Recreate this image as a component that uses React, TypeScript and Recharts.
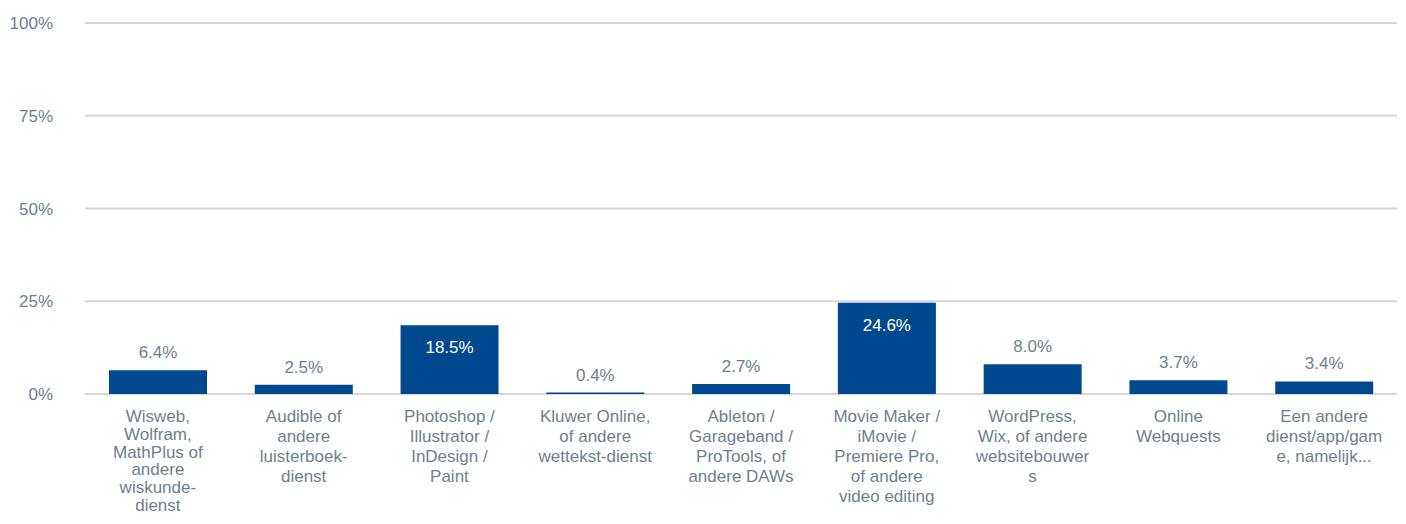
import { BarChart, Bar, XAxis, YAxis, CartesianGrid, LabelList } from "recharts"

const categories = [
  ["Wisweb,", "Wolfram,", "MathPlus of", "andere", "wiskunde-", "dienst"],
  ["Audible of", "andere", "luisterboek-", "dienst"],
  ["Photoshop /", "Illustrator /", "InDesign /", "Paint"],
  ["Kluwer Online,", "of andere", "wettekst-dienst"],
  ["Ableton /", "Garageband /", "ProTools, of", "andere DAWs"],
  ["Movie Maker /", "iMovie /", "Premiere Pro,", "of andere", "video editing"],
  ["WordPress,", "Wix, of andere", "websitebouwer", "s"],
  ["Online", "Webquests"],
  ["Een andere", "dienst/app/gam", "e, namelijk..."],
]
const values = [6.4, 2.5, 18.5, 0.4, 2.7, 24.6, 8.0, 3.7, 3.4]
const yTicks = [0, 25, 50, 75, 100]

const data = categories.map((lines, i) => ({ name: lines.join(" "), lines, value: values[i] }))

const GRAY = "#6e7f8c"
const BLUE = "#00498f"
const FONT = "'Liberation Sans', Arial, sans-serif"
const CHART_H = 508

function CategoryTick(props: any) {
  const { x, y, index } = props
  const lines: string[] = data[index]?.lines ?? []
  const first = y + 28
  // squeeze long labels so the last line still fits in the picture
  const step = lines.length > 1 ? Math.min(20, (CHART_H - 5 - first) / (lines.length - 1)) : 20
  return (
    <text textAnchor="middle" fill={GRAY} fontSize={17} fontFamily={FONT}>
      {lines.map((l, i) => (
        <tspan key={i} x={x} y={first + i * step}>{l}</tspan>
      ))}
    </text>
  )
}

function ValueLabel(props: any) {
  const { x, y, width, value } = props
  const inside = value > 15
  return (
    <text
      x={x + width / 2}
      y={inside ? y + 28 : y - 12}
      textAnchor="middle"
      fill={inside ? "#ffffff" : GRAY}
      fontSize={17}
      fontFamily={FONT}
    >
      {`${Number(value).toFixed(1)}%`}
    </text>
  )
}

export default function App() {
  return (
    <div style={{ width: 1390, height: CHART_H, fontFamily: FONT }}>
      <BarChart width={1390} height={CHART_H} data={data} margin={{ top: 15, right: 1, left: 0, bottom: 0 }}>
        <CartesianGrid vertical={false} stroke="#d6d6d6" strokeWidth={2} />
        <XAxis
          dataKey="name"
          interval={0}
          height={122}
          axisLine={false}
          tickLine={false}
          tickSize={0}
          tickMargin={0}
          tick={<CategoryTick />}
        />
        <YAxis
          domain={[0, 100]}
          ticks={yTicks}
          width={77}
          axisLine={false}
          tickLine={false}
          tickSize={0}
          tickMargin={32}
          tickFormatter={(v: number) => `${v}%`}
          tick={{ fontSize: 17, fill: GRAY, fontFamily: FONT }}
        />
        <Bar dataKey="value" fill={BLUE} barSize={98} isAnimationActive={false}>
          <LabelList dataKey="value" content={<ValueLabel />} />
        </Bar>
      </BarChart>
    </div>
  )
}
